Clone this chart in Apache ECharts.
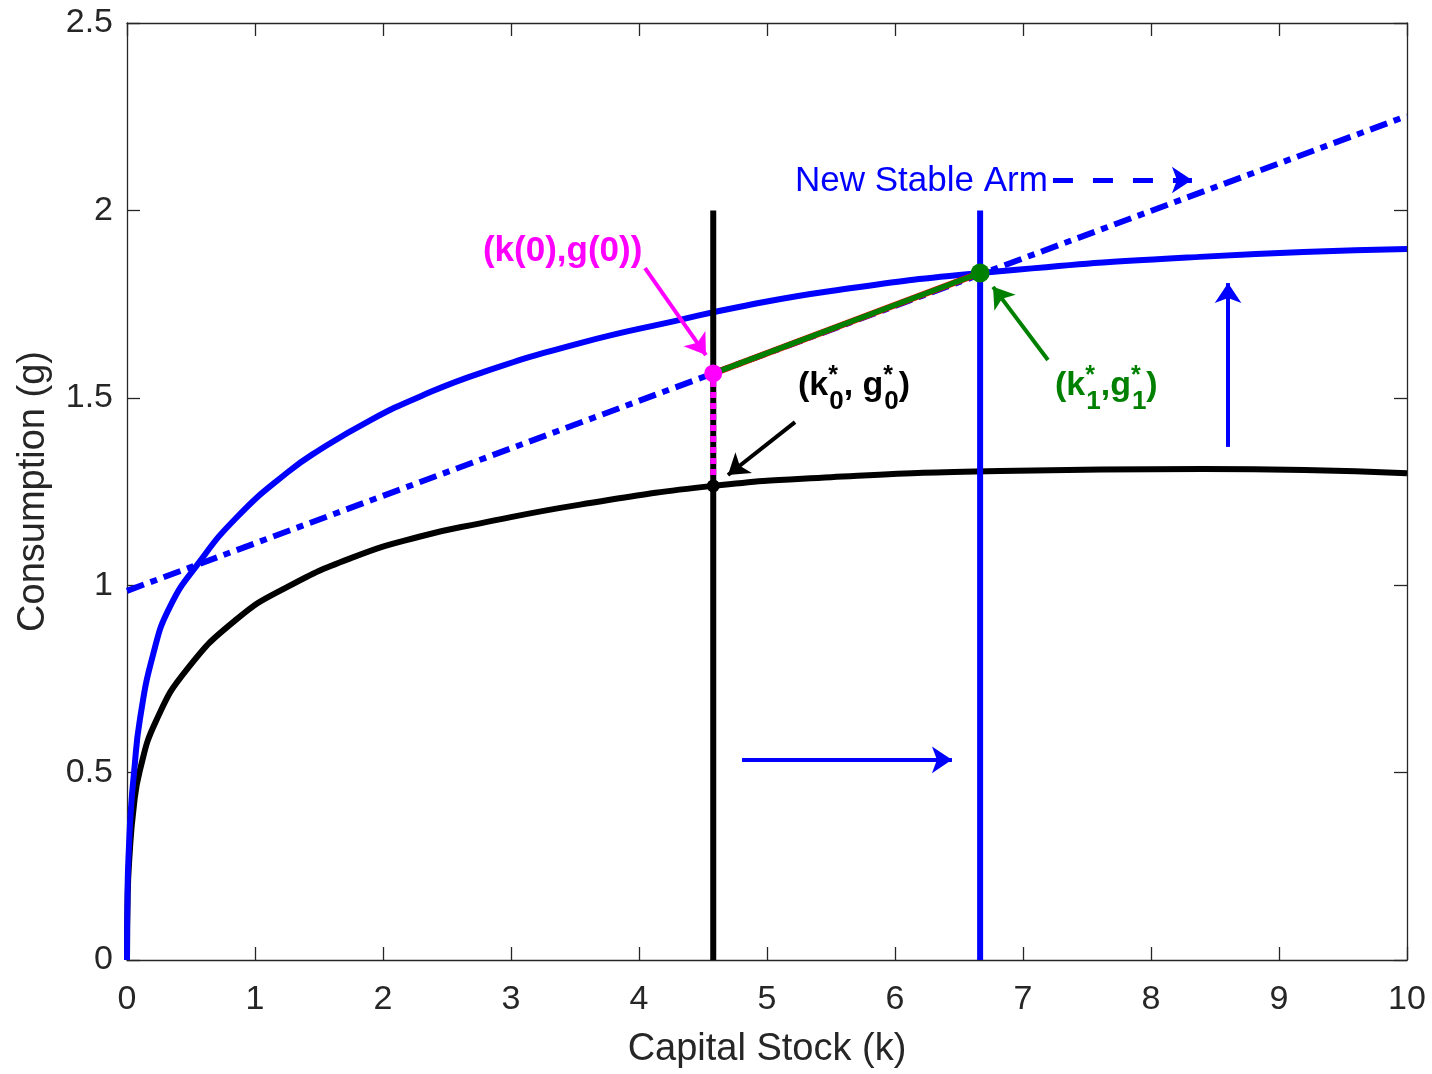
<!DOCTYPE html>
<html><head><meta charset="utf-8">
<script src="https://cdn.jsdelivr.net/npm/echarts@6/dist/echarts.min.js"></script>
<style>html,body{margin:0;padding:0;background:#fff}#c{width:1432px;height:1074px}</style>
</head><body><div id="c"></div>
<script>
// ---- data ----
const blueK = [0, 0.005, 0.015, 0.03, 0.055, 0.1, 0.206, 0.336, 0.55, 0.86, 1.25, 1.5, 1.9, 2.3, 2.76, 3.54, 4.32, 4.79, 5.5, 6.67, 8.38, 10];
const blueG = [0, 0.2, 0.3, 0.4, 0.5, 0.64, 0.818, 0.943, 1.055, 1.182, 1.3, 1.36, 1.44, 1.505, 1.566, 1.646, 1.708, 1.743, 1.785, 1.833, 1.876, 1.897];
const blackK = [0, 0.005, 0.02, 0.05, 0.1, 0.23, 0.47, 0.86, 1.25, 1.77, 2.29, 2.76, 3.54, 4.58, 5.5, 6.82, 8.4, 10];
const blackG = [0, 0.17, 0.28, 0.4, 0.505, 0.64, 0.776, 0.91, 0.995, 1.075, 1.13, 1.165, 1.215, 1.265, 1.288, 1.305, 1.31, 1.299];
const stableArmK = [0, 10];
const stableArmG = [0.985, 2.252];
const kOld = 4.58, kNew = 6.665;
const gOldStar = 1.265, gStart = 1.565, gNewStar = 1.833;
const verticalTop = 2.0;
const xTicks = [0, 1, 2, 3, 4, 5, 6, 7, 8, 9, 10];
const yTicks = [0, 0.5, 1, 1.5, 2, 2.5];
const annotationText = ['(k(0),g(0))', 'New Stable Arm', 'k0', 'k1'];
const annotationAt = [[2.781, 1.892], [5.219, 2.078], [5.242, 1.533], [7.25, 1.533]];
const arrowFrom = [[4.047, 1.846], [5.219, 1.435], [7.195, 1.601], [4.805, 0.534], [8.602, 1.369], [7.234, 2.081]];
const arrowTo   = [[4.523, 1.614], [4.695, 1.294], [6.766, 1.796], [6.445, 0.534], [8.602, 1.806], [8.32, 2.081]];

const FONT = '"Liberation Sans", Arial, Helvetica, sans-serif';
const AX = '#262626';
const BLUE = '#0000ff', MAG = '#ff00ff', GREEN = '#008000';

function zip(a, b) { return a.map((v, i) => [v, b[i]]); }
function lineSeries(data, color, width, type, extra) {
  return Object.assign({
    type: 'line', data: data, symbol: 'none', showSymbol: false, silent: true,
    lineStyle: { color: color, width: width, type: type || 'solid', cap: 'butt' },
    animation: false, z: 2
  }, extra || {});
}
function arrowSeries(idx, color, width, dashed) {
  return {
    type: 'scatter', data: [arrowFrom[idx]], symbolSize: 0, silent: true, animation: false,
    markLine: {
      silent: true, animation: false, symbol: ['none', 'arrow'], symbolSize: 20,
      label: { show: false },
      lineStyle: { color: color, width: width, type: dashed ? [20, 20] : 'solid', cap: 'butt', opacity: 1 },
      itemStyle: { color: color, opacity: 1 },
      emphasis: { disabled: true },
      data: [[{ coord: arrowFrom[idx] }, { coord: arrowTo[idx] }]]
    }
  };
}
function subsupRich(color) {
  return {
    p: { fontSize: 34, fontWeight: 'bold', color: color, fontFamily: FONT, lineHeight: 40 },
    sup: { fontSize: 25, fontWeight: 'bold', color: color, fontFamily: FONT, width: 1, padding: [0, 0, 18, 0] },
    sub: { fontSize: 26, fontWeight: 'bold', color: color, fontFamily: FONT, padding: [32, 0, 0, 0] }
  };
}

const annotations = [
  { value: annotationAt[0], label: { show: true, position: 'inside', align: 'left', verticalAlign: 'middle',
      formatter: annotationText[0], color: MAG, fontSize: 35, fontWeight: 'bold', fontFamily: FONT } },
  { value: annotationAt[1], label: { show: true, position: 'inside', align: 'left', verticalAlign: 'middle',
      formatter: annotationText[1], color: BLUE, fontSize: 35, fontFamily: FONT } },
  { value: annotationAt[2], label: { show: true, position: 'inside', align: 'left', verticalAlign: 'middle',
      formatter: '{p|(k}{sup|*}{sub|0}{p|, g}{sup|*}{sub|0}{p|)}', rich: subsupRich('#000000') } },
  { value: annotationAt[3], label: { show: true, position: 'inside', align: 'left', verticalAlign: 'middle',
      formatter: '{p|(k}{sup|*}{sub|1}{p|,g}{sup|*}{sub|1}{p|)}', rich: subsupRich(GREEN) } }
];

const axisCommon = {
  type: 'value', splitLine: { show: false },
  axisLine: { show: true, onZero: false, lineStyle: { color: AX, width: 1.3 } },
  axisTick: { show: true, inside: true, length: 13, lineStyle: { color: AX, width: 1.3 } }
};

const option = {
  animation: false,
  backgroundColor: '#ffffff',
  grid: { left: 127, right: 25, top: 23, bottom: 114, containLabel: false },
  xAxis: [
    Object.assign({}, axisCommon, {
      min: xTicks[0], max: xTicks[xTicks.length - 1], interval: xTicks[1] - xTicks[0], position: 'bottom',
      axisLabel: { margin: 23, fontSize: 34, color: AX, fontFamily: FONT },
      name: 'Capital Stock (k)', nameLocation: 'middle', nameGap: 71,
      nameTextStyle: { fontSize: 38, color: AX, fontFamily: FONT }
    }),
    Object.assign({}, axisCommon, {
      min: xTicks[0], max: xTicks[xTicks.length - 1], interval: xTicks[1] - xTicks[0], position: 'top',
      axisLabel: { show: false }
    })
  ],
  yAxis: [
    Object.assign({}, axisCommon, {
      min: yTicks[0], max: yTicks[yTicks.length - 1], interval: yTicks[1] - yTicks[0], position: 'left',
      axisLabel: { margin: 14, fontSize: 34, color: AX, fontFamily: FONT },
      name: 'Consumption (g)', nameLocation: 'middle', nameGap: 74, nameRotate: 90,
      nameTextStyle: { fontSize: 38, color: AX, fontFamily: FONT }
    }),
    Object.assign({}, axisCommon, {
      min: yTicks[0], max: yTicks[yTicks.length - 1], interval: yTicks[1] - yTicks[0], position: 'right',
      axisLabel: { show: false }
    })
  ],
  series: [
    lineSeries(zip(blackK, blackG), '#000000', 6, 'solid', { smooth: 0.5 }),
    lineSeries(zip(blueK, blueG), BLUE, 6, 'solid', { smooth: 0.5 }),
    lineSeries([[kOld, 0], [kOld, verticalTop]], '#000000', 6),
    { type: 'scatter', silent: true, animation: false,
      data: [
        { value: [kOld, gStart], symbolSize: 18, itemStyle: { color: MAG, opacity: 1 } },
        { value: [kNew, gNewStar], symbolSize: 19, itemStyle: { color: GREEN, opacity: 1 } }
      ] },
    lineSeries([[kNew, 0], [kNew, verticalTop]], BLUE, 6),
    lineSeries(zip(stableArmK, stableArmG), BLUE, 6, [18, 7, 7, 7]),
    lineSeries([[kOld, gStart], [kNew, gNewStar]], '#ff0000', 6.5),
    lineSeries([[kOld, gStart], [kNew, gNewStar]], GREEN, 5.5),
    lineSeries([[kOld, gOldStar], [kOld, gStart]], MAG, 6, [6, 5]),
    { type: 'scatter', silent: true, animation: false,
      data: [{ value: [kOld, gOldStar], symbolSize: 13, itemStyle: { color: '#000000', opacity: 1 } }] },
    arrowSeries(0, MAG, 4),
    arrowSeries(1, '#000000', 4),
    arrowSeries(2, GREEN, 4),
    arrowSeries(3, BLUE, 4),
    arrowSeries(4, BLUE, 4),
    arrowSeries(5, BLUE, 5, true),
    { type: 'scatter', silent: true, animation: false, symbolSize: 1,
      itemStyle: { color: 'rgba(0,0,0,0)', opacity: 1 }, data: annotations, z: 5 }
  ]
};
const chart = echarts.init(document.getElementById('c'), null, { renderer: 'canvas' });
chart.setOption(option);
</script></body></html>
